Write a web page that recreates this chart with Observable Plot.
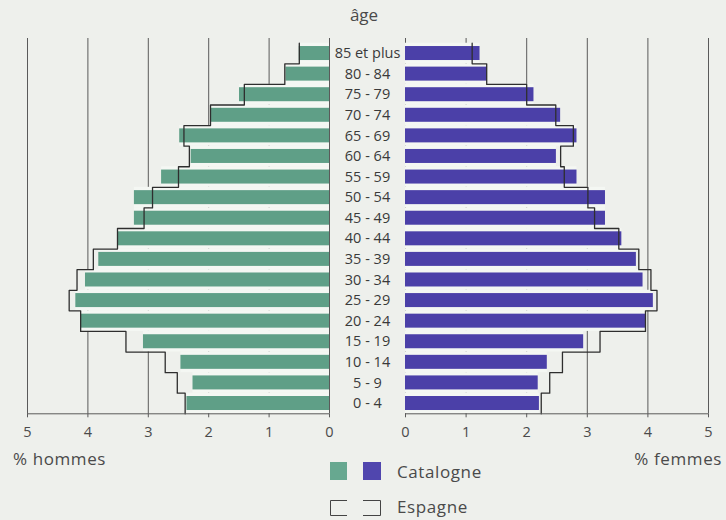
<!DOCTYPE html>
<html>
<head>
<meta charset="utf-8">
<script src="https://cdn.jsdelivr.net/npm/d3@7"></script>
<script src="https://cdn.jsdelivr.net/npm/@observablehq/plot@0.6"></script>
<style>
  html, body { margin: 0; padding: 0; background: #eef0ec; }
  #wrap { position: relative; width: 726px; height: 520px; background: #eef0ec; font-family: "Open Sans", sans-serif; color: #4a4a4a; overflow: hidden; }
  .abs { position: absolute; white-space: nowrap; }
  #left, #right { position: absolute; top: 0; }
  #left { left: 0; }
  #right { left: 329px; }
</style>
</head>
<body>
<div id="wrap">
  <div id="left"></div>
  <div id="right"></div>
  <div class="abs" id="title" style="left:0;width:728px;text-align:center;top:3px;font-size:17px;">âge</div>
  <div class="abs" style="left:13px;top:447px;font-size:17px;letter-spacing:0.6px;">% hommes</div>
  <div class="abs" style="right:4px;top:447px;font-size:17px;letter-spacing:0.6px;">% femmes</div>
  <svg class="abs" style="left:0;top:450px" width="726" height="70" id="legend"></svg>
</div>
<script>
// ---- data (bottom to top) ----
const ages = ["0 - 4","5 - 9","10 - 14","15 - 19","20 - 24","25 - 29","30 - 34","35 - 39","40 - 44","45 - 49","50 - 54","55 - 59","60 - 64","65 - 69","70 - 74","75 - 79","80 - 84","85 et plus"];
const hommesCatalogne = [2.36, 2.26, 2.46, 3.08, 4.12, 4.20, 4.04, 3.82, 3.51, 3.23, 3.23, 2.78, 2.29, 2.48, 1.96, 1.49, 0.72, 0.50];
const hommesEspagne   = [2.39, 2.52, 2.72, 3.37, 4.12, 4.31, 4.18, 3.91, 3.51, 3.07, 2.93, 2.50, 2.32, 2.41, 1.97, 1.41, 0.74, 0.50];
const femmesCatalogne = [2.21, 2.19, 2.34, 2.94, 3.96, 4.09, 3.92, 3.81, 3.57, 3.30, 3.30, 2.83, 2.49, 2.83, 2.56, 2.12, 1.35, 1.23];
const femmesEspagne   = [2.24, 2.38, 2.59, 3.21, 3.96, 4.15, 4.05, 3.85, 3.52, 3.12, 3.01, 2.62, 2.56, 2.77, 2.48, 2.00, 1.34, 1.10];
const xTicks = [0, 1, 2, 3, 4, 5];
const legendLabels = ["Catalogne", "Espagne"];

const GREEN = "#5f9f87", PURPLE = "#4b40a8", LIGHT = "#f4f7f3", GRID = "#5a5a5a", OUTLINE = "#2e2e2e";

function rows(cat) { return ages.map((age, i) => ({age, i, v: cat[i]})); }
function stepPts(esp) { return esp.flatMap((v, i) => [{x: v, y: i - 0.5}, {x: v, y: i + 0.5}]); }

const common = {
  height: 440, marginTop: 38, marginBottom: 26.7,
  y: {domain: [-0.5, 17.73], axis: null},
  style: {background: "transparent", fontFamily: "Open Sans, sans-serif", fontSize: "14.5px", color: "#4a4a4a", overflow: "visible"}
};

function panel(cat, esp, color, reverse, opts, extra) {
  const r = rows(cat);
  return Plot.plot({
    ...common, ...opts,
    x: {domain: [0, 5], reverse},
    marks: [
      Plot.ruleX(xTicks, {stroke: GRID, strokeWidth: 1}),
      Plot.rectX(r, {x1: 0, x2: "v", y1: d => d.i - 0.5, y2: d => d.i + 0.5, fill: LIGHT}),
      Plot.rectX(r, {x1: 0, x2: "v", y1: d => d.i - 0.34, y2: d => d.i + 0.34, fill: color}),
      Plot.line(stepPts(esp), {x: "x", y: "y", stroke: OUTLINE, strokeWidth: 1.3}),
      Plot.ruleY([-0.5], {stroke: GRID, strokeWidth: 1}),
      Plot.axisX({ticks: xTicks, tickFormat: d => String(d), tickSize: 4, tickPadding: 9, label: null, fontSize: 14.5, stroke: GRID}),
      ...(extra || [])
    ]
  });
}

document.getElementById("left").append(
  panel(hommesCatalogne, hommesEspagne, GREEN, true, {width: 340, marginLeft: 27, marginRight: 11})
);
document.getElementById("right").append(
  panel(femmesCatalogne, femmesEspagne, PURPLE, false, {width: 397, marginLeft: 76, marginRight: 18}, [
    Plot.text(rows(femmesCatalogne), {x: 0, y: "i", text: "age", dx: -38, textAnchor: "middle", fontSize: 14.5, fill: "#3a3a3a"})
  ])
);

// legend
const lg = d3.select("#legend");
lg.append("rect").attr("x", 330).attr("y", 12).attr("width", 17).attr("height", 18).attr("fill", "#67a890");
lg.append("rect").attr("x", 363).attr("y", 12).attr("width", 18).attr("height", 18).attr("fill", "#5046ae");
lg.append("path").attr("d", "M347,50.5 H330.5 V65.5 H347").attr("fill", "none").attr("stroke", "#444").attr("stroke-width", 1);
lg.append("path").attr("d", "M363,50.5 H380.5 V65.5 H363").attr("fill", "none").attr("stroke", "#444").attr("stroke-width", 1);
lg.selectAll("text.l").data(legendLabels).join("text")
  .attr("x", 397).attr("y", (d, i) => i === 0 ? 28 : 63)
  .attr("font-family", "Open Sans, sans-serif").attr("font-size", 17).attr("letter-spacing", 0.6)
  .attr("fill", "#4a4a4a").text(d => d);
</script>
</body>
</html>
